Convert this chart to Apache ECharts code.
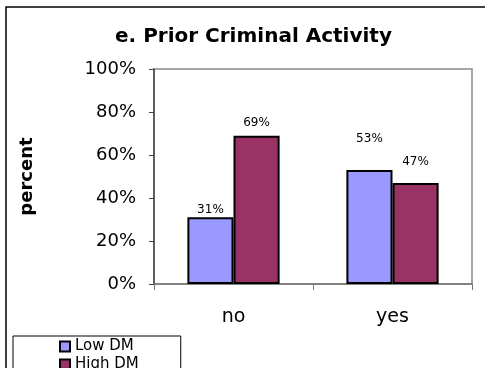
<!DOCTYPE html>
<html>
<head>
<meta charset="utf-8">
<script src="https://cdn.jsdelivr.net/npm/echarts@6/dist/echarts.min.js"></script>
<style>
  html, body { margin: 0; padding: 0; background: #fff; }
  #chart { width: 485px; height: 368px; }
</style>
</head>
<body>
<div id="chart"></div>
<script>
// Share of cases with / without prior criminal activity, by DM group
const categories = ['no', 'yes'];
const seriesNames = ['Low DM', 'High DM'];
const lowDM = [31, 53];
const highDM = [69, 47];
const yTicks = [0, 20, 40, 60, 80, 100];

const FONT = 'DejaVu Sans';
const chart = echarts.init(document.getElementById('chart'), null, { renderer: 'canvas' });

// label lift above each bar top (px)
function barSeries(name, values, color, lifts) {
  return {
    name: name,
    type: 'bar',
    data: values.map((v, i) => ({ value: v, label: { distance: lifts[i] } })),
    barGap: '0%',
    barCategoryGap: '42%',
    itemStyle: { color: color, borderColor: '#000', borderWidth: 2 },
    label: {
      show: true, position: 'top', formatter: '{c}%',
      fontFamily: FONT, fontSize: 12, color: '#000'
    },
    emphasis: { disabled: true }
  };
}

chart.setOption({
  animation: false,
  backgroundColor: '#fff',
  title: {
    text: 'e. Prior Criminal Activity',
    left: 110, top: 22,
    textStyle: { fontFamily: FONT, fontSize: 20, fontWeight: 'bold', color: '#000' }
  },
  legend: {
    orient: 'vertical',
    left: 13, top: 336, height: 80,
    padding: [2, 42, 20, 46],
    itemWidth: 10, itemHeight: 10, itemGap: 1,
    icon: 'rect',
    borderColor: '#000', borderWidth: 1,
    data: seriesNames,
    textStyle: { fontFamily: FONT, fontSize: 15, color: '#000', lineHeight: 17 }
  },
  grid: {
    left: 154, right: 13, top: 69, bottom: 84,
    show: true, borderColor: '#8a8a8a', borderWidth: 1.5, backgroundColor: '#fff'
  },
  xAxis: {
    type: 'category',
    data: categories,
    axisLine: { lineStyle: { color: '#777', width: 1.5 } },
    axisTick: { show: true, length: 6, lineStyle: { color: '#777', width: 1 } },
    axisLabel: { fontFamily: FONT, fontSize: 19, color: '#000', margin: 24 }
  },
  yAxis: {
    type: 'value',
    min: yTicks[0], max: yTicks[yTicks.length - 1], interval: 20,
    name: 'percent',
    nameLocation: 'middle', nameRotate: 90, nameGap: 118,
    nameTextStyle: { fontFamily: FONT, fontSize: 18, fontWeight: 'bold', color: '#000' },
    axisLine: { show: true, lineStyle: { color: '#444', width: 1.5 } },
    axisTick: { show: true, length: 5, lineStyle: { color: '#444', width: 1 } },
    splitLine: { show: false },
    axisLabel: { fontFamily: FONT, fontSize: 18, color: '#000', margin: 18, formatter: '{value}%' }
  },
  series: [
    barSeries(seriesNames[0], lowDM, '#9999FF', [1, 25]),
    barSeries(seriesNames[1], highDM, '#993366', [7, 15])
  ],
  graphic: [{
    type: 'rect',
    shape: { x: 6, y: 7, width: 700, height: 700 },
    style: { fill: 'none', stroke: '#000', lineWidth: 1.5 },
    silent: true, z: 100
  }]
});
</script>
</body>
</html>
